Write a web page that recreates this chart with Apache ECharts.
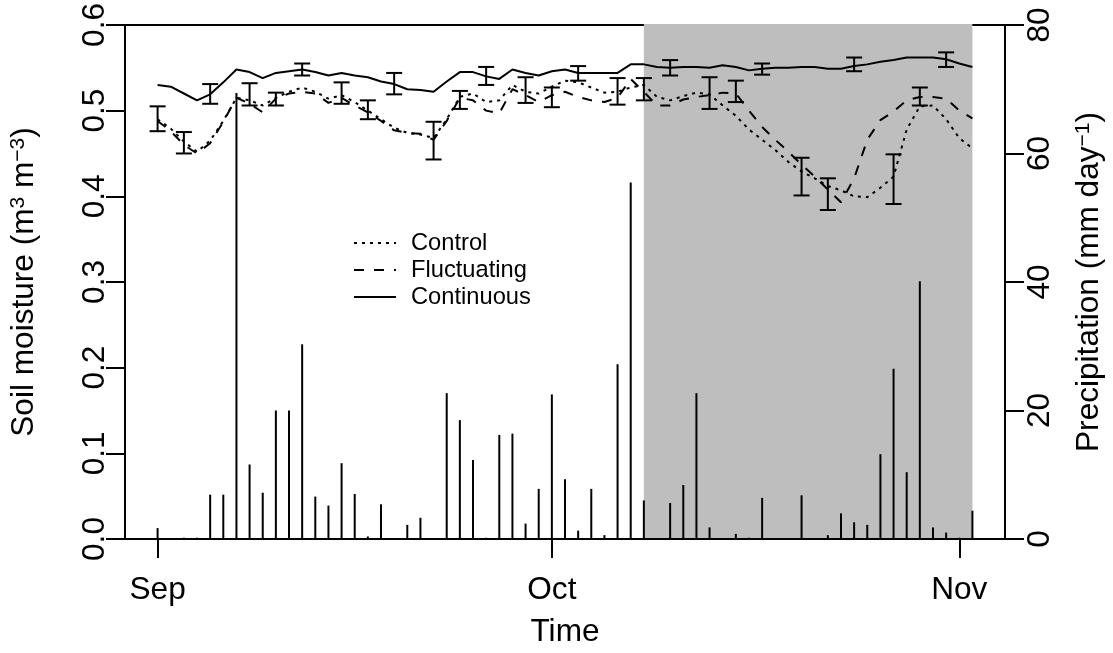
<!DOCTYPE html>
<html>
<head>
<meta charset="utf-8">
<script src="https://cdn.jsdelivr.net/npm/echarts@6/dist/echarts.min.js"></script>
<style>
  html, body { margin: 0; padding: 0; background: #ffffff; }
  #chart { width: 1113px; height: 653px; }
</style>
</head>
<body>
<div id="chart"></div>
<script>
// Daily series, one value per day starting 1 September (day 0) through 2 November (day 62).
const control = [
  0.490, 0.479, 0.464, 0.452, 0.465, 0.488, 0.515, 0.512, 0.506, 0.515,
  0.522, 0.527, 0.522, 0.514, 0.518, 0.510, 0.500, 0.490, 0.480, 0.474,
  0.472, 0.468, 0.490, 0.516, 0.520, 0.510, 0.512, 0.530, 0.522, 0.520,
  0.528, 0.535, 0.533, 0.527, 0.521, 0.522, 0.527, 0.530, 0.516, 0.512,
  0.517, 0.521, 0.519, 0.506, 0.494, 0.478, 0.466, 0.454, 0.440, 0.429,
  0.421, 0.412, 0.407, 0.400, 0.399, 0.410, 0.423, 0.478, 0.505, 0.506,
  0.490, 0.468, 0.456
];
const fluctuating = [
  0.488, 0.476, 0.460, 0.450, 0.462, 0.487, 0.515, 0.508, 0.498, 0.514,
  0.520, 0.522, 0.520, 0.509, 0.515, 0.506, 0.498, 0.488, 0.477, 0.474,
  0.473, 0.466, 0.488, 0.515, 0.512, 0.500, 0.497, 0.525, 0.518, 0.510,
  0.518, 0.522, 0.516, 0.512, 0.510, 0.515, 0.537, 0.522, 0.506, 0.506,
  0.513, 0.516, 0.518, 0.521, 0.520, 0.500, 0.481, 0.466, 0.452, 0.437,
  0.423, 0.408, 0.393, 0.421, 0.466, 0.489, 0.499, 0.512, 0.516, 0.516,
  0.514, 0.500, 0.491
];
const continuous = [
  0.530, 0.528, 0.520, 0.512, 0.519, 0.533, 0.548, 0.545, 0.538, 0.544,
  0.546, 0.548, 0.545, 0.541, 0.544, 0.541, 0.539, 0.534, 0.531, 0.525,
  0.524, 0.522, 0.534, 0.545, 0.545, 0.540, 0.537, 0.548, 0.544, 0.541,
  0.546, 0.548, 0.544, 0.544, 0.544, 0.544, 0.554, 0.554, 0.551, 0.550,
  0.551, 0.551, 0.550, 0.553, 0.551, 0.547, 0.549, 0.550, 0.550, 0.551,
  0.551, 0.549, 0.549, 0.552, 0.554, 0.557, 0.559, 0.562, 0.562, 0.562,
  0.560, 0.555, 0.551
];
// Daily precipitation, mm per day
const precipitation = [
  1.7, 0, 0.2, 0.2, 6.9, 6.9, 69.4, 11.6, 7.2, 20.0,
  20.0, 30.3, 6.6, 5.2, 11.8, 7.0, 0.4, 5.4, 0, 2.2,
  3.3, 0, 22.7, 18.5, 12.3, 0.2, 16.2, 16.4, 2.4, 7.8,
  22.5, 9.3, 1.3, 7.8, 0.6, 27.2, 55.5, 6.0, 0, 5.6,
  8.4, 22.7, 1.8, 0.1, 0.8, 0.2, 6.4, 0.1, 0.1, 6.8,
  0.1, 0.6, 4.0, 2.6, 2.2, 13.2, 26.5, 10.4, 40.1, 1.8,
  1.0, 0.2, 4.4
];
// Error bars: day, lower and upper bound of soil moisture
const errDay  = [0, 2, 4, 7, 9, 11, 14, 16, 18, 21, 23, 25, 28, 30, 32, 35, 37, 39, 42, 44, 46, 49, 51, 53, 56, 58, 60];
const errLow  = [0.476, 0.450, 0.508, 0.506, 0.506, 0.541, 0.508, 0.490, 0.519, 0.443, 0.502, 0.530, 0.509, 0.504, 0.535, 0.507, 0.512, 0.541, 0.502, 0.510, 0.542, 0.401, 0.384, 0.546, 0.391, 0.506, 0.551];
const errHigh = [0.505, 0.475, 0.531, 0.532, 0.521, 0.555, 0.533, 0.512, 0.544, 0.487, 0.523, 0.551, 0.539, 0.527, 0.552, 0.538, 0.538, 0.559, 0.539, 0.535, 0.555, 0.445, 0.421, 0.562, 0.449, 0.527, 0.568];
// Treatment period (shaded), as day indices
const shadeStart = 37;
const shadeEnd = 62;
// Month ticks
const monthTicks = [0, 30, 61];
const monthLabels = ['Sep', 'Oct', 'Nov'];

const FONT = '"Liberation Sans", Arial, Helvetica, sans-serif';
const AX = 31.6;       // axis text size
const LEG = 23.7;      // legend text size
const lastDay = control.length - 1;
const pad = 0.04 * lastDay;   // 4% range extension on each side

const pairs = arr => arr.map((v, i) => [i, v]);

const chart = echarts.init(document.getElementById('chart'), null, { renderer: 'canvas' });

const blackLine = { show: true, onZero: false, lineStyle: { color: '#000', width: 2 } };

chart.setOption({
  animation: false,
  backgroundColor: '#ffffff',
  textStyle: { fontFamily: FONT, color: '#000' },
  grid: { left: 125, right: 105, top: 19, bottom: 114, containLabel: false },
  legend: {
    orient: 'vertical',
    left: 348,
    top: 226,
    itemWidth: 42,
    itemHeight: 14,
    itemGap: 3,
    selectedMode: false,
    data: ['Control', 'Fluctuating', 'Continuous'],
    itemStyle: { opacity: 0 },
    textStyle: { fontFamily: FONT, fontSize: LEG, color: '#000', lineHeight: 24, padding: [0, 0, 0, 10] }
  },
  xAxis: [
    {
      type: 'value', position: 'bottom', min: -pad, max: lastDay + pad, z: 3,
      axisLine: blackLine,
      axisTick: { show: true, customValues: monthTicks, length: 19, lineStyle: { color: '#000', width: 2 } },
      axisLabel: {
        customValues: monthTicks, fontFamily: FONT, fontSize: AX, color: '#000', margin: 51,
        verticalAlign: 'middle',
        formatter: v => monthLabels[monthTicks.indexOf(Math.round(v))] || ''
      },
      splitLine: { show: false },
      name: 'Time', nameLocation: 'middle', nameGap: 93,
      nameTextStyle: { fontFamily: FONT, fontSize: AX, color: '#000', verticalAlign: 'middle' }
    },
    {
      type: 'value', position: 'top', min: -pad, max: lastDay + pad,
      axisLine: blackLine, axisTick: { show: false }, axisLabel: { show: false }, splitLine: { show: false }
    }
  ],
  yAxis: [
    {
      type: 'value', position: 'left', min: 0, max: 0.6, interval: 0.1,
      axisLine: blackLine,
      axisTick: { show: true, length: 19, lineStyle: { color: '#000', width: 2 } },
      axisLabel: {
        fontFamily: FONT, fontSize: AX, color: '#000', rotate: 90, margin: 30,
        align: 'center', verticalAlign: 'middle',
        formatter: v => v.toFixed(1)
      },
      splitLine: { show: false },
      name: 'Soil moisture (m{sup|3} m{sup|\u22123})', nameLocation: 'middle', nameRotate: 90, nameGap: 101,
      nameTextStyle: {
        fontFamily: FONT, fontSize: AX, color: '#000', align: 'center', verticalAlign: 'middle',
        rich: { sup: { fontFamily: FONT, fontSize: 21, color: '#000', verticalAlign: 'top' } }
      }
    },
    {
      type: 'value', position: 'right', min: 0, max: 80, interval: 20,
      axisLine: blackLine,
      axisTick: { show: true, length: 19, lineStyle: { color: '#000', width: 2 } },
      axisLabel: {
        fontFamily: FONT, fontSize: AX, color: '#000', rotate: 90, margin: 35,
        align: 'center', verticalAlign: 'middle'
      },
      splitLine: { show: false },
      name: 'Precipitation (mm day{sup|\u22121})', nameLocation: 'middle', nameRotate: 90, nameGap: 84,
      nameTextStyle: {
        fontFamily: FONT, fontSize: AX, color: '#000', align: 'center', verticalAlign: 'middle',
        rich: { sup: { fontFamily: FONT, fontSize: 21, color: '#000', verticalAlign: 'top' } }
      }
    }
  ],
  series: [
    {
      // shaded treatment period
      type: 'custom', name: 'period', z: 1, silent: true,
      data: [[shadeStart, shadeEnd]],
      renderItem: (params, api) => {
        const a = api.coord([api.value(0), 0.6]);
        const b = api.coord([api.value(1), 0]);
        return { type: 'rect', shape: { x: a[0], y: a[1] - 1, width: b[0] - a[0], height: b[1] - a[1] },
                 style: { fill: '#bebebe' } };
      }
    },
    {
      // daily precipitation as vertical spikes on the right axis
      type: 'custom', name: 'precip', z: 2, yAxisIndex: 1, silent: true,
      data: pairs(precipitation),
      renderItem: (params, api) => {
        const b = api.coord([api.value(0), 0]);
        const t = api.coord([api.value(0), api.value(1)]);
        return { type: 'line', shape: { x1: b[0], y1: b[1], x2: t[0], y2: t[1] },
                 style: { stroke: '#000', lineWidth: 2, lineCap: 'butt' } };
      }
    },
    {
      name: 'Control', type: 'line', z: 3, symbol: 'none', data: pairs(control),
      lineStyle: { color: '#000', width: 2, type: [3, 5] }, itemStyle: { color: '#000' }
    },
    {
      name: 'Fluctuating', type: 'line', z: 3, symbol: 'none', data: pairs(fluctuating),
      lineStyle: { color: '#000', width: 2, type: [10, 10] }, itemStyle: { color: '#000' }
    },
    {
      name: 'Continuous', type: 'line', z: 3, symbol: 'none', data: pairs(continuous),
      lineStyle: { color: '#000', width: 2, type: 'solid' }, itemStyle: { color: '#000' }
    },
    {
      // error bars with caps
      type: 'custom', name: 'errors', z: 4, silent: true,
      data: errDay.map((d, i) => [d, errLow[i], errHigh[i]]),
      renderItem: (params, api) => {
        const lo = api.coord([api.value(0), api.value(1)]);
        const hi = api.coord([api.value(0), api.value(2)]);
        const w = 8;
        const st = { stroke: '#000', lineWidth: 2 };
        return { type: 'group', children: [
          { type: 'line', shape: { x1: lo[0], y1: lo[1], x2: hi[0], y2: hi[1] }, style: st },
          { type: 'line', shape: { x1: lo[0] - w, y1: lo[1], x2: lo[0] + w, y2: lo[1] }, style: st },
          { type: 'line', shape: { x1: hi[0] - w, y1: hi[1], x2: hi[0] + w, y2: hi[1] }, style: st }
        ] };
      }
    }
  ]
});
</script>
</body>
</html>
